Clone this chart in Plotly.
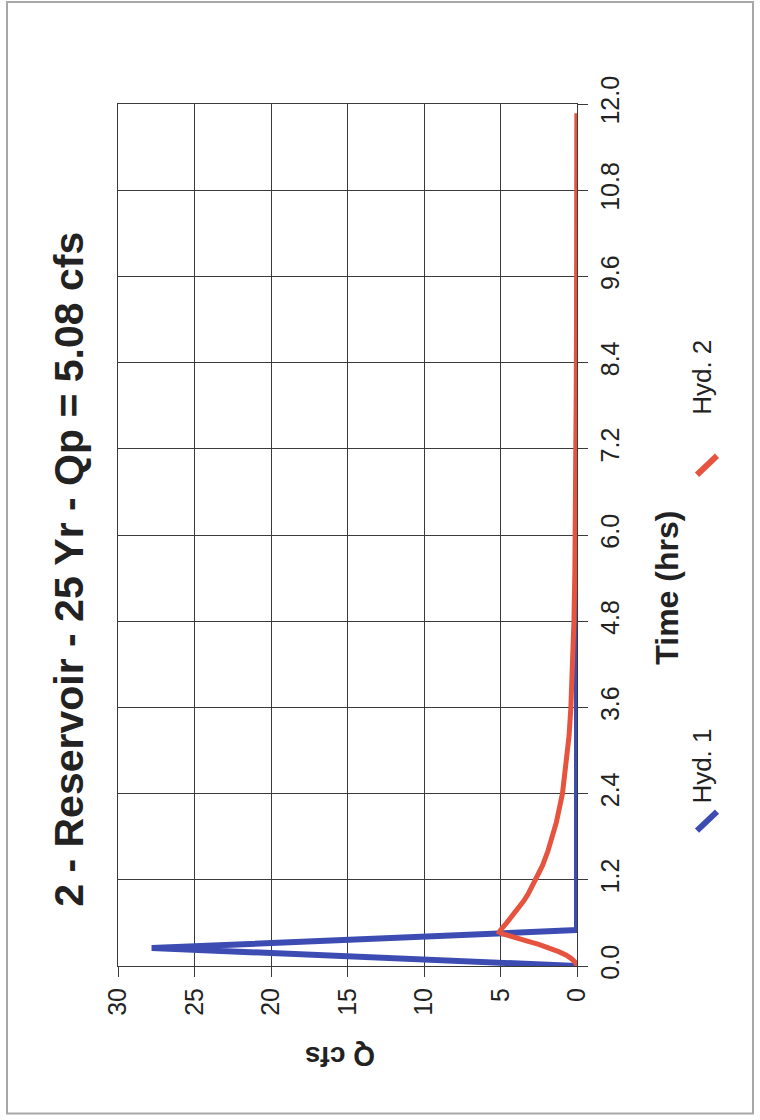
import plotly.graph_objects as go

# Hyd. 1 (inflow) - time (hrs), Q (cfs)
hyd1_t = [0.0, 0.25, 0.5, 8.9]
hyd1_q = [0.0, 27.8, 0.0, 0.0]

# Hyd. 2 (reservoir outflow) - time (hrs), Q (cfs)
hyd2_t = [0.0, 0.05, 0.1, 0.15, 0.2, 0.25, 0.3, 0.35, 0.4, 0.45, 0.47, 0.5, 0.6, 0.7,
          0.8, 0.9, 1.0, 1.2, 1.4, 1.6, 1.8, 2.0, 2.4, 2.8, 3.2, 3.6, 4.2, 4.8, 5.5,
          6.0, 7.0, 8.0, 9.0, 10.0, 11.0, 11.87]
hyd2_q = [0.0, 0.1, 0.35, 0.7, 1.2, 1.8, 2.5, 3.3, 4.2, 4.9, 5.08, 5.0, 4.6, 4.2,
          3.85, 3.5, 3.2, 2.7, 2.25, 1.9, 1.6, 1.35, 0.95, 0.7, 0.52, 0.4, 0.28, 0.2, 0.14,
          0.11, 0.07, 0.05, 0.03, 0.02, 0.01, 0.01]

time_ticks = [0.0, 1.2, 2.4, 3.6, 4.8, 6.0, 7.2, 8.4, 9.6, 10.8, 12.0]
time_labels = ["0.0", "1.2", "2.4", "3.6", "4.8", "6.0", "7.2", "8.4", "9.6", "10.8", "12.0"]
q_ticks = [0, 5, 10, 15, 20, 25, 30]
q_labels = ["0", "5", "10", "15", "20", "25", "30"]

title_text = "2 - Reservoir - 25 Yr - Qp = 5.08 cfs"
series_names = ["Hyd. 1", "Hyd. 2"]
BLUE = "#3d4cb3"
RED = "#e6533f"

W, H = 760, 1120
L, R, T, B = 118, 577, 104, 966.5
FONT = "Liberation Sans, Arial, sans-serif"


def px(x):
    return (x - L) / (R - L)


def py(y):
    return (B - y) / (B - T)


fig = go.Figure()
fig.add_trace(go.Scatter(x=hyd1_q, y=hyd1_t, mode="lines", name=series_names[0],
                         line=dict(color=BLUE, width=6), showlegend=False))
fig.add_trace(go.Scatter(x=hyd2_q, y=hyd2_t, mode="lines", name=series_names[1],
                         line=dict(color=RED, width=5), showlegend=False))

axis_font = dict(family=FONT, size=25, color="#222222")
fig.update_xaxes(range=[30, 0], tickvals=q_ticks, ticktext=q_labels, tickangle=-90,
                 showgrid=True, gridcolor="#3a3a3a", gridwidth=1,
                 showline=True, linecolor="#3a3a3a", linewidth=1, mirror=True,
                 ticks="outside", ticklen=10, tickcolor="#3a3a3a",
                 tickfont=axis_font, zeroline=False, ticklabelstandoff=1)
fig.update_yaxes(range=[0, 12], tickvals=time_ticks, ticktext=time_labels, tickangle=-90,
                 side="right", showgrid=True, gridcolor="#3a3a3a", gridwidth=1,
                 showline=True, linecolor="#3a3a3a", linewidth=1, mirror=True,
                 ticks="outside", ticklen=10, tickcolor="#3a3a3a",
                 tickfont=axis_font, zeroline=False, ticklabelstandoff=1)

ann = []
ann.append(dict(text="<b>" + title_text + "</b>", x=px(69), y=py(570), xref="paper", yref="paper",
                textangle=-90, showarrow=False, xanchor="center", yanchor="middle",
                font=dict(family=FONT, size=41, color="#222222")))
ann.append(dict(text="<b>Time (hrs)</b>", x=px(667), y=py(588), xref="paper", yref="paper",
                textangle=-90, showarrow=False, xanchor="center", yanchor="middle",
                font=dict(family=FONT, size=32, color="#222222")))
ann.append(dict(text="<b>Q cfs</b>", x=px(340), y=py(1057), xref="paper", yref="paper",
                textangle=180, showarrow=False, xanchor="center", yanchor="middle",
                font=dict(family=FONT, size=28, color="#222222")))
ann.append(dict(text=series_names[0], x=px(702), y=py(767), xref="paper", yref="paper",
                textangle=-90, showarrow=False, xanchor="center", yanchor="middle",
                font=dict(family=FONT, size=26, color="#222222")))
ann.append(dict(text=series_names[1], x=px(702), y=py(378), xref="paper", yref="paper",
                textangle=-90, showarrow=False, xanchor="center", yanchor="middle",
                font=dict(family=FONT, size=26, color="#222222")))

shapes = []
# legend symbols
shapes.append(dict(type="line", xref="paper", yref="paper", x0=px(697), y0=py(831), x1=px(717), y1=py(812),
                   line=dict(color=BLUE, width=6)))
shapes.append(dict(type="line", xref="paper", yref="paper", x0=px(697), y0=py(475), x1=px(717), y1=py(456),
                   line=dict(color=RED, width=6)))
# page frame
shapes.append(dict(type="rect", xref="paper", yref="paper", x0=px(7), y0=py(1114), x1=px(753), y1=py(2),
                   line=dict(color="#a8a8a8", width=2), layer="below"))

fig.update_layout(width=W, height=H, margin=dict(l=L, r=W - R, t=T, b=H - B, pad=0),
                  paper_bgcolor="white", plot_bgcolor="white",
                  annotations=ann, shapes=shapes, showlegend=False)

fig.write_html("out.html", config={"displayModeBar": False},
               post_script="document.body.style.margin='0';")
